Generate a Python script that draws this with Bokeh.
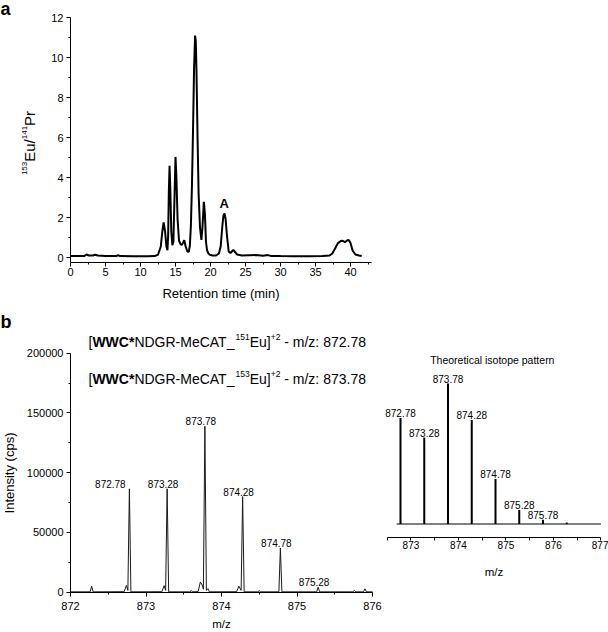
import math
from bokeh.plotting import figure
from bokeh.layouts import column, row
from bokeh.models import Range1d, FixedTicker, BasicTickFormatter, Label, ColumnDataSource
from bokeh.core.properties import value
from bokeh.embed import file_html
from bokeh.resources import INLINE

# ---------------- data: panel a (chromatogram) ----------------
rt_min = [0.0, 1.0, 2.0, 2.3, 2.6, 3.2, 3.5, 3.9, 5.0, 6.5, 6.8, 7.1, 9.0, 11.0, 12.0,
          12.5, 12.9, 13.1, 13.3, 13.5, 13.7, 13.85, 13.95, 14.05, 14.15, 14.25, 14.4,
          14.55, 14.7, 14.85, 15.0, 15.12, 15.3, 15.5, 15.7, 15.9, 16.05, 16.25, 16.45,
          16.7, 16.9, 17.05, 17.2, 17.35, 17.5, 17.65, 17.8, 17.9, 18.0, 18.15, 18.3,
          18.5, 18.7, 18.85, 19.05, 19.2, 19.35, 19.5, 19.7, 19.9, 20.3, 20.8, 21.2,
          21.45, 21.7, 21.85, 22.0, 22.15, 22.35, 22.6, 22.85, 23.05, 23.25, 23.45,
          23.8, 24.5, 25.5, 26.5, 27.5, 28.2, 28.6, 30.0, 32.0, 34.0, 36.0, 37.0, 37.4,
          37.8, 38.2, 38.6, 38.9, 39.2, 39.5, 39.75, 40.0, 40.3, 40.7, 41.2, 41.6]
eu_pr_ratio = [0.07, 0.07, 0.08, 0.15, 0.10, 0.10, 0.14, 0.10, 0.07, 0.07, 0.11, 0.07, 0.06, 0.06, 0.07,
               0.14, 0.55, 1.25, 1.75, 1.35, 0.55, 0.36, 1.1, 3.3, 4.58, 3.5, 1.3,
               0.62, 0.8, 2.9, 5.03, 4.1, 1.9, 0.85, 0.68, 0.62, 0.72, 0.87, 0.55,
               0.3, 0.28, 0.6, 1.6, 3.6, 6.3, 9.4, 11.1, 10.8, 9.3, 6.0, 3.2,
               1.5, 0.88, 1.5, 2.78, 2.2, 0.8, 0.37, 0.2, 0.14, 0.1, 0.1, 0.2,
               0.55, 1.6, 2.1, 2.2, 1.95, 1.1, 0.3, 0.22, 0.3, 0.38, 0.3,
               0.15, 0.1, 0.11, 0.12, 0.09, 0.12, 0.08, 0.07, 0.06, 0.06, 0.07, 0.1, 0.2,
               0.45, 0.72, 0.82, 0.84, 0.76, 0.85, 0.88, 0.72, 0.35, 0.15, 0.1, 0.08]
peak_A_rt = [21.95]
peak_A_ratio = [2.2]
peak_A_name = ["A"]
a_xticks = [0, 5, 10, 15, 20, 25, 30, 35, 40]
a_xminor = [2.5, 7.5, 12.5, 17.5, 22.5, 27.5, 32.5, 37.5, 42.5]
a_yticks = [0, 2, 4, 6, 8, 10, 12]
a_yminor = [1, 3, 5, 7, 9, 11]
a_xspan = (0, 43)
a_yspan = (-0.25, 12)
a_ylabel_parts = [("153", True), ("Eu/", False), ("141", True), ("Pr", False)]

# ---------------- data: panel b (measured spectrum) ----------------
ms_mz = [872.00, 872.26, 872.28, 872.30, 872.71, 872.74, 872.76, 872.78, 872.80,
         873.21, 873.24, 873.26, 873.28, 873.30, 873.58, 873.60, 873.62, 873.69,
         873.72, 873.745, 873.76, 873.78, 873.80, 873.82, 873.84, 874.20, 874.23,
         874.26, 874.28, 874.30, 874.48, 874.50, 874.52, 874.76, 874.78, 874.80,
         875.26, 875.28, 875.30, 875.74, 875.76, 875.78, 875.88, 875.90, 875.92, 876.00]
ms_intensity = [300, 300, 5000, 300, 400, 5600, 1500, 86500, 300,
                400, 5500, 1500, 86500, 300, 300, 1200, 300, 500,
                8500, 6000, 2500, 139000, 1500, 3000, 300, 400, 5000,
                1500, 80000, 300, 300, 1200, 300, 300, 37000, 300,
                300, 4200, 300, 300, 1500, 300, 300, 2800, 300, 300]
ms_label_mz = [872.78, 873.28, 873.78, 874.28, 874.78, 875.28]
ms_label_int = [86500, 86500, 139000, 80000, 37000, 4200]
ms_label_text = ["872.78", "873.28", "873.78", "874.28", "874.78", "875.28"]
b_xticks = [872, 873, 874, 875, 876]
b_xminor = [872.5, 873.5, 874.5, 875.5]
b_yticks = [0, 50000, 100000, 150000, 200000]
b_yminor = [25000, 75000, 125000, 175000]
b_xspan = (872, 876)
b_yspan = (0, 200000)
# title lines: (text, bold, superscript, leading gap in spaces)
title_lines = [
    [("[", False, False, 0), ("WWC*", True, False, 0), ("NDGR-MeCAT_", False, False, 0),
     ("151", False, True, 0), ("Eu]", False, False, 0), ("+2", False, True, 0),
     ("- m/z: 872.78", False, False, 1)],
    [("[", False, False, 0), ("WWC*", True, False, 0), ("NDGR-MeCAT_", False, False, 0),
     ("153", False, True, 0), ("Eu]", False, False, 0), ("+2", False, True, 0),
     ("- m/z: 873.78", False, False, 1)],
]

# ---------------- data: inset (theoretical pattern) ----------------
theo_mz = [872.78, 873.28, 873.78, 874.28, 874.78, 875.28, 875.78, 876.28]
theo_rel = [75.5, 61.5, 100, 74, 32, 10, 3, 1]
theo_label_mz = [872.78, 873.28, 873.78, 874.28, 874.78, 875.28, 875.78]
theo_label_rel = [75.5, 61.5, 100, 74, 32, 10, 3]
theo_label_text = ["872.78", "873.28", "873.78", "874.28", "874.78", "875.28", "875.78"]
theo_base_mz = [872.7, 877.0]
theo_base_rel = [0, 0]
i_xticks = [873, 874, 875, 876, 877]
i_xminor = [872.5, 873.5, 874.5, 875.5, 876.5]
i_xspan = (872.5, 877)

FONT = "Liberation Sans"
# Arial / Liberation Sans advance widths (em) for laying out mixed-style labels
ADV = {"[": .278, "]": .278, "W": .944, "C": .722, "*": .389, "N": .722, "D": .722,
       "G": .778, "R": .722, "-": .333, "M": .833, "e": .556, "A": .667, "T": .611,
       "_": .556, "E": .667, "u": .556, "+": .584, " ": .278, "m": .833, "/": .278,
       "z": .5, ":": .278, ".": .278, "P": .667, "r": .333}
ADV_BOLD = {"W": .944, "C": .722, "*": .389}


def text_width(s, size, bold=False):
    w = 0.0
    for ch in s:
        if ch.isdigit():
            w += .556
        elif bold and ch in ADV_BOLD:
            w += ADV_BOLD[ch]
        else:
            w += ADV.get(ch, .556)
    return w * size


def page_range(lo_px, hi_px, anchor_px, anchor_val, px_per_unit, vertical=False):
    if vertical:
        return Range1d(anchor_val - (hi_px - anchor_px) / px_per_unit,
                       anchor_val + (anchor_px - lo_px) / px_per_unit)
    return Range1d(anchor_val + (lo_px - anchor_px) / px_per_unit,
                   anchor_val + (hi_px - anchor_px) / px_per_unit)


def style_axis(ax, label_size, tick_size, tick_out=4, minor_out=2):
    ax.axis_line_color = "black"
    ax.axis_line_width = 1
    ax.major_tick_line_color = "black"
    ax.minor_tick_line_color = "black"
    ax.major_tick_in = 0
    ax.minor_tick_in = 0
    ax.major_tick_out = tick_out
    ax.minor_tick_out = minor_out
    ax.major_label_text_font = FONT
    ax.major_label_text_font_size = tick_size
    ax.major_label_text_color = "black"
    ax.axis_label_text_font = FONT
    ax.axis_label_text_font_size = label_size
    ax.axis_label_text_font_style = "normal"
    ax.axis_label_text_color = "black"


def base_fig(w, h, xr, yr, **kw):
    p = figure(output_backend="svg", toolbar_location=None, width=w, height=h,
               x_range=xr, y_range=yr, min_border=0, **kw)
    p.outline_line_color = None
    p.grid.visible = False
    p.background_fill_color = "white"
    p.border_fill_color = "white"
    return p


def lab(p, x, y, text, size, bold=False, align="left", baseline="middle", angle=0.0):
    p.add_layout(Label(x=x, y=y, x_units="screen", y_units="screen", text=text,
                       text_font=FONT, text_font_size=f"{size}px",
                       text_font_style="bold" if bold else "normal",
                       text_align=align, text_baseline=baseline, angle=angle,
                       text_color="black"))


# ---------------- panel a : page x 0..608, y 0..302 ----------------
pa = base_fig(608, 302, page_range(0, 608, 70, 0, 7), page_range(0, 302, 257, 0, 20, True))
pa.line(rt_min, eu_pr_ratio, line_color="black", line_width=2)
pa.text(x=peak_A_rt, y=peak_A_ratio, text=peak_A_name, text_font=value(FONT),
        text_font_size="13px", text_font_style="bold", text_align="center",
        text_baseline="bottom", y_offset=-3, text_color="black")
pa.xaxis.ticker = FixedTicker(ticks=a_xticks, minor_ticks=a_xminor)
pa.yaxis.ticker = FixedTicker(ticks=a_yticks, minor_ticks=a_yminor)
pa.xaxis.fixed_location = a_yspan[0]
pa.yaxis.fixed_location = a_xspan[0]
pa.xaxis.bounds = a_xspan
pa.yaxis.bounds = a_yspan
pa.xaxis.axis_label = "Retention time (min)"
style_axis(pa.xaxis[0], "13px", "11px")
style_axis(pa.yaxis[0], "14px", "11px")
pa.xaxis.major_label_standoff = 1
pa.xaxis.axis_label_standoff = 7
pa.yaxis.major_label_standoff = 3
lab(pa, 0, 302 - 8, "a", 18, bold=True, baseline="alphabetic")
# rotated y label built from pieces (superscripts smaller and raised)
MAIN, SUP = 15, 8
total = sum(text_width(t, SUP if s else MAIN) for t, s in a_ylabel_parts)
ypos = (302 - 142.5) - total / 2
for t, s in a_ylabel_parts:
    lab(pa, 24 if s else 28.5, ypos, t, SUP if s else MAIN, angle=math.pi / 2)
    ypos += text_width(t, SUP if s else MAIN)

# ---------------- panel b : page x 0..382, y 302..632 ----------------
pb = base_fig(382, 330, page_range(0, 382, 70, 872, 75.5),
              page_range(302, 632, 591.7, 0, 239.0 / 200000, True))
pb.line(ms_mz, ms_intensity, line_color="#1a1a1a", line_width=1)
src_b = ColumnDataSource(dict(x=ms_label_mz, y=ms_label_int, t=ms_label_text,
                              dx=[-19, -4, -4, -4, -4, -4]))
pb.text(x="x", y="y", text="t", source=src_b, x_offset="dx", y_offset=-1,
        text_font=value(FONT), text_font_size="10px", text_align="center",
        text_baseline="bottom", text_color="black")
pb.xaxis.ticker = FixedTicker(ticks=b_xticks, minor_ticks=b_xminor)
pb.yaxis.ticker = FixedTicker(ticks=b_yticks, minor_ticks=b_yminor)
pb.yaxis.formatter = BasicTickFormatter(use_scientific=False)
pb.xaxis.fixed_location = b_yspan[0]
pb.yaxis.fixed_location = b_xspan[0]
pb.xaxis.bounds = b_xspan
pb.yaxis.bounds = b_yspan
pb.xaxis.axis_label = "m/z"
pb.yaxis.axis_label = "Intensity (cps)"
style_axis(pb.xaxis[0], "11.5px", "11px")
style_axis(pb.yaxis[0], "13px", "11px")
pb.xaxis.major_label_standoff = 6
pb.xaxis.axis_label_standoff = 4
pb.yaxis.major_label_standoff = 3
pb.yaxis.axis_label_standoff = 7
lab(pb, 0, 632 - 321, "b", 18, bold=True)
TMAIN, TSUP = 14, 8.5
for ys, parts in zip([632 - 341.7, 632 - 378], title_lines):
    xpos = 88
    for t, bold, sup, gap in parts:
        size = TSUP if sup else TMAIN
        xpos += gap * text_width(" ", TMAIN)
        lab(pb, xpos, ys + (5 if sup else 0), t, size, bold=bold)
        xpos += text_width(t, size, bold)

# ---------------- inset : page x 382..608, y 302..632 ----------------
pi = base_fig(226, 330, page_range(382, 608, 386.7, 872.5, 47.5),
              page_range(302, 632, 523.5, 0, 1.405, True), y_axis_location=None)
pi.line(theo_base_mz, theo_base_rel, line_color="#808080", line_width=2)
pi.segment(x0=theo_mz, y0=[0] * len(theo_mz), x1=theo_mz, y1=theo_rel,
           line_color="black", line_width=2)
pi.text(x=theo_label_mz, y=theo_label_rel, text=theo_label_text, y_offset=-1,
        text_font=value(FONT), text_font_size="10px", text_align="center",
        text_baseline="bottom", text_color="black")
pi.xaxis.ticker = FixedTicker(ticks=i_xticks, minor_ticks=i_xminor)
pi.xaxis.fixed_location = -9.4
pi.xaxis.bounds = i_xspan
pi.xaxis.axis_label = "m/z"
style_axis(pi.xaxis[0], "11.5px", "10px", tick_out=3, minor_out=3)
pi.xaxis.major_label_standoff = 1
pi.xaxis.axis_label_standoff = 13
lab(pi, 491.8 - 382, 632 - 359, "Theoretical isotope pattern", 10.5, align="center")

layout = column(pa, row(pb, pi))
open("out.html", "w").write(file_html(layout, INLINE))
